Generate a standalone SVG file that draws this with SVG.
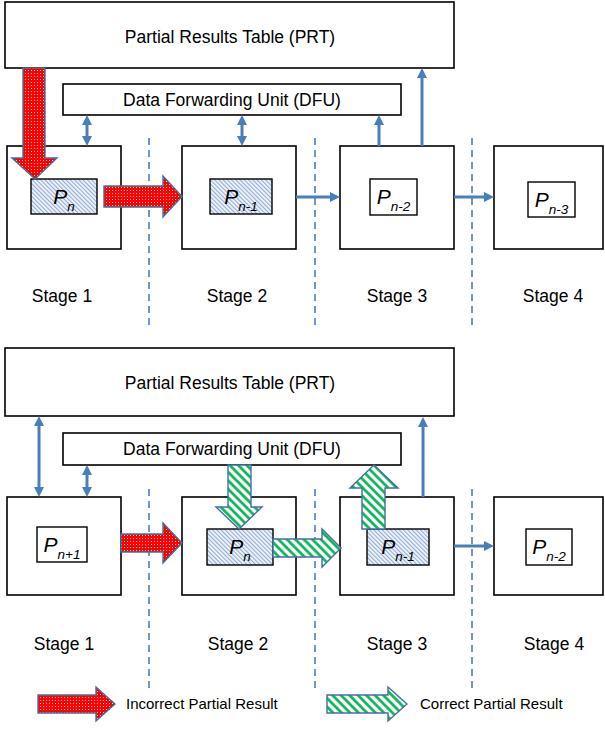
<svg xmlns="http://www.w3.org/2000/svg" width="605" height="729" viewBox="0 0 605 729">
  <style>
    .box { fill: #ffffff; stroke: #000000; stroke-width: 1.6; }
    .reg { stroke: #000000; stroke-width: 1.4; }
    .plain { fill: #ffffff; }
    .hatched { fill: url(#hatchBlue); }
    .lbl { font-family: "Liberation Sans", Arial, sans-serif; font-size: 17.5px; fill: #000000; text-anchor: middle; }
    .plbl { font-family: "Liberation Sans", Arial, sans-serif; font-style: italic; font-size: 21px; fill: #000000; text-anchor: middle; }
    .sub { font-size: 13.5px; }
    .legend { font-family: "Liberation Sans", Arial, sans-serif; font-size: 15px; fill: #000000; }
    .divider { stroke: #4a7ebb; stroke-width: 1.6; stroke-dasharray: 7 5; fill: none; }
    .link { stroke: #4a7ebb; stroke-width: 3; fill: none; }
    .one { marker-end: url(#head); }
    .two { marker-start: url(#head); marker-end: url(#head); }
    .bad { fill: url(#dotsRed); stroke: #41719c; stroke-width: 1.4; stroke-linejoin: miter; }
    .good { fill: url(#stripeGreen); stroke: #41719c; stroke-width: 1.4; stroke-linejoin: miter; }
  </style>
  <defs>
    <pattern id="hatchBlue" width="3" height="3" patternUnits="userSpaceOnUse" patternTransform="rotate(-45)">
      <rect width="3" height="3" fill="#f2f5fb"/>
      <line x1="0.6" y1="0" x2="0.6" y2="3" stroke="#8eaad3" stroke-width="1.1"/>
    </pattern>
    <pattern id="dotsRed" width="3" height="3" patternUnits="userSpaceOnUse">
      <rect width="3" height="3" fill="#ff0000"/>
      <rect x="1" y="1" width="1" height="1" fill="#ffd0d0"/>
    </pattern>
    <pattern id="stripeGreen" width="6" height="6" patternUnits="userSpaceOnUse" patternTransform="rotate(-45)">
      <rect width="6" height="6" fill="#ffffff"/>
      <line x1="1.5" y1="0" x2="1.5" y2="6" stroke="#00b050" stroke-width="2.6"/>
    </pattern>
    <marker id="head" viewBox="0 0 10 10" refX="4" refY="5" markerWidth="10" markerHeight="10" markerUnits="userSpaceOnUse" orient="auto-start-reverse">
      <path d="M0,0 L10,5 L0,10 Z" fill="#4a7ebb"/>
    </marker>
  </defs>

  <!-- stage dividers -->
  <g id="dividers">
    <line class="divider" x1="149" y1="138" x2="149" y2="327"/>
    <line class="divider" x1="315" y1="138" x2="315" y2="327"/>
    <line class="divider" x1="472" y1="138" x2="472" y2="327"/>
    <line class="divider" x1="149" y1="489" x2="149" y2="692"/>
    <line class="divider" x1="315" y1="489" x2="315" y2="692"/>
    <line class="divider" x1="472" y1="489" x2="472" y2="692"/>
  </g>

  <!-- upper pipeline -->
  <g id="prt-a">
    <rect class="box" x="5" y="2" width="449" height="66"/>
    <text class="lbl" x="230" y="43">Partial Results Table (PRT)</text>
  </g>
  <g id="dfu-a">
    <rect class="box" x="63" y="84" width="338" height="31"/>
    <text class="lbl" x="232" y="106">Data Forwarding Unit (DFU)</text>
  </g>
  <g id="stage1-a">
    <rect class="box" x="7" y="146" width="114" height="103"/>
    <rect class="reg hatched" x="31" y="179" width="66" height="35"/>
    <text class="plbl" x="64" y="204">P<tspan class="sub" dy="7">n</tspan></text>
    <text class="lbl" x="62" y="302">Stage 1</text>
  </g>
  <g id="stage2-a">
    <rect class="box" x="182" y="146" width="114" height="103"/>
    <rect class="reg hatched" x="210" y="179" width="62" height="35"/>
    <text class="plbl" x="241" y="204">P<tspan class="sub" dy="7">n-1</tspan></text>
    <text class="lbl" x="237" y="302">Stage 2</text>
  </g>
  <g id="stage3-a">
    <rect class="box" x="340" y="146" width="114" height="103"/>
    <rect class="reg plain" x="370" y="179" width="47" height="36"/>
    <text class="plbl" x="393.5" y="204">P<tspan class="sub" dy="7">n-2</tspan></text>
    <text class="lbl" x="397" y="302">Stage 3</text>
  </g>
  <g id="stage4-a">
    <rect class="box" x="494" y="146" width="109" height="103"/>
    <rect class="reg plain" x="528" y="182" width="47" height="35"/>
    <text class="plbl" x="551.5" y="207">P<tspan class="sub" dy="7">n-3</tspan></text>
    <text class="lbl" x="553" y="302">Stage 4</text>
  </g>

  <!-- lower pipeline -->
  <g id="prt-b">
    <rect class="box" x="5" y="348" width="449" height="68"/>
    <text class="lbl" x="230" y="389">Partial Results Table (PRT)</text>
  </g>
  <g id="dfu-b">
    <rect class="box" x="63" y="433" width="338" height="32"/>
    <text class="lbl" x="232" y="455">Data Forwarding Unit (DFU)</text>
  </g>
  <g id="stage1-b">
    <rect class="box" x="7" y="497" width="114" height="98"/>
    <rect class="reg plain" x="37" y="527" width="50" height="35"/>
    <text class="plbl" x="62" y="552">P<tspan class="sub" dy="7">n+1</tspan></text>
    <text class="lbl" x="64" y="650">Stage 1</text>
  </g>
  <g id="stage2-b">
    <rect class="box" x="182" y="497" width="114" height="98"/>
    <rect class="reg hatched" x="207" y="529" width="66" height="36"/>
    <text class="plbl" x="240" y="554">P<tspan class="sub" dy="7">n</tspan></text>
    <text class="lbl" x="238" y="650">Stage 2</text>
  </g>
  <g id="stage3-b">
    <rect class="box" x="340" y="497" width="114" height="98"/>
    <rect class="reg hatched" x="367" y="529" width="62" height="36"/>
    <text class="plbl" x="398" y="554">P<tspan class="sub" dy="7">n-1</tspan></text>
    <text class="lbl" x="397" y="650">Stage 3</text>
  </g>
  <g id="stage4-b">
    <rect class="box" x="494" y="497" width="109" height="98"/>
    <rect class="reg plain" x="526" y="529" width="46" height="36"/>
    <text class="plbl" x="549" y="554">P<tspan class="sub" dy="7">n-2</tspan></text>
    <text class="lbl" x="554" y="650">Stage 4</text>
  </g>

  <!-- data paths -->
  <g id="connectors">
    <!-- upper -->
    <line class="link two" x1="87" y1="121" x2="87" y2="140"/>
    <line class="link two" x1="242" y1="121" x2="242" y2="140"/>
    <line class="link one" x1="379" y1="146" x2="379" y2="121"/>
    <line class="link one" x1="422" y1="146" x2="422" y2="74"/>
    <line class="link one" x1="296" y1="197" x2="334" y2="197"/>
    <line class="link one" x1="454" y1="197" x2="488" y2="197"/>
    <polygon class="bad" points="23,68 45,68 45,158 57,158 35,179 12,158 23,158"/>
    <polygon class="bad" points="104,186 163,186 163,176 182,196.5 163,217 163,207 104,207"/>
    <!-- lower -->
    <line class="link two" x1="39" y1="422" x2="39" y2="491"/>
    <line class="link two" x1="87" y1="471" x2="87" y2="491"/>
    <line class="link one" x1="423" y1="497" x2="423" y2="423"/>
    <line class="link one" x1="454" y1="546" x2="488" y2="546"/>
    <polygon class="bad" points="121,534 163,534 163,523 182,543 163,563 163,552 121,552"/>
    <polygon class="good" points="228,465 251,465 251,507 262,507 239,529 216,507 228,507"/>
    <polygon class="good" points="273,539 322,539 322,529 341,548 322,567 322,557 273,557"/>
    <polygon class="good" points="362,529 385,529 385,488 398,488 374,465 350,488 362,488"/>
  </g>

  <!-- key -->
  <g id="legend">
    <polygon class="bad" points="38,695 96,695 96,687 115,704 96,721 96,713 38,713"/>
    <text class="legend" x="126" y="709">Incorrect Partial Result</text>
    <polygon class="good" points="327,695 388,695 388,687 407,704 388,721 388,713 327,713"/>
    <text class="legend" x="420" y="709">Correct Partial Result</text>
  </g>
</svg>
